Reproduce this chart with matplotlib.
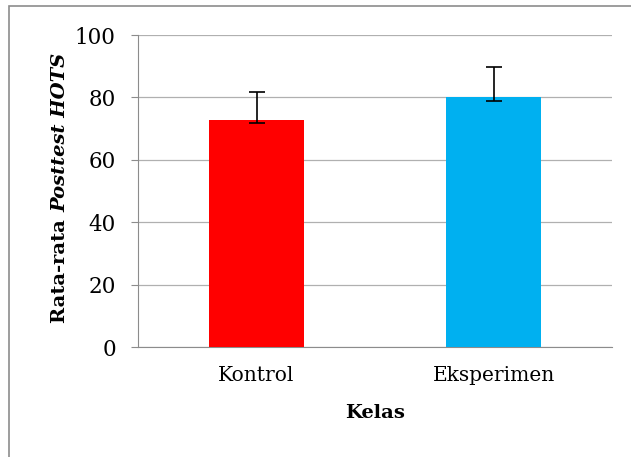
import matplotlib
matplotlib.use("Agg")
import matplotlib.pyplot as plt
from matplotlib.patches import Rectangle

# data
kelas = ["Kontrol", "Eksperimen"]
rata_rata = [72.8, 80.0]
err_bawah = [0.9, 1.3]
err_atas = [8.8, 9.7]
warna = ["#FF0000", "#00B0F0"]
y_ticks = [0, 20, 40, 60, 80, 100]

plt.rcParams["font.family"] = ["DejaVu Serif"]

fig = plt.figure(figsize=(6.31, 4.57), dpi=100)
ax = fig.add_axes([138 / 631, 1 - 347 / 457, (612 - 138) / 631, (347 - 35) / 457])

# outer frame (left + top only visible)
fig.patches.append(Rectangle((9 / 631, -0.1), 1.2, 1 - 6 / 457 + 0.1,
                             transform=fig.transFigure, fill=False,
                             edgecolor="#8c8c8c", linewidth=1.2))

x = range(len(kelas))
ax.bar(x, rata_rata, width=0.4, color=warna, zorder=3)
ax.errorbar(x, rata_rata, yerr=[err_bawah, err_atas], fmt="none",
            ecolor="black", elinewidth=1.2, capsize=6, capthick=1.2, zorder=4)

ax.set_xlim(-0.5, 1.5)
ax.set_ylim(0, 100)
ax.set_yticks(y_ticks)
ax.set_xticks(list(x))
ax.set_xticklabels(kelas, fontsize=14.5)
ax.tick_params(axis="y", labelsize=15.5, length=5, color="#8c8c8c", pad=11)
ax.tick_params(axis="x", length=0, pad=14)

ax.grid(axis="y", color="#b0b0b0", linewidth=0.9, zorder=0)
for s in ["top", "right"]:
    ax.spines[s].set_visible(False)
ax.spines["left"].set_color("#8c8c8c")
ax.spines["bottom"].set_color("#8c8c8c")

ax.set_xlabel("Kelas", fontsize=14, fontweight="bold", labelpad=13)

# y label: "Rata-rata " bold + "Posttest HOTS" bold italic
fig.canvas.draw()
r = fig.canvas.get_renderer()
lx = 60 / 631
t1 = fig.text(lx, 0, "Rata-rata ", rotation=90, fontsize=14, fontweight="bold",
              ha="center", va="bottom")
t2 = fig.text(lx, 0, "Posttest HOTS", rotation=90, fontsize=14, fontweight="bold",
              style="italic", ha="center", va="bottom")
h1 = t1.get_window_extent(r).height / fig.bbox.height
h2 = t2.get_window_extent(r).height / fig.bbox.height
yc = 1 - 188 / 457
y0 = yc - (h1 + h2) / 2
t1.set_y(y0)
t2.set_y(y0 + h1)

fig.savefig("out.png", dpi=100)
